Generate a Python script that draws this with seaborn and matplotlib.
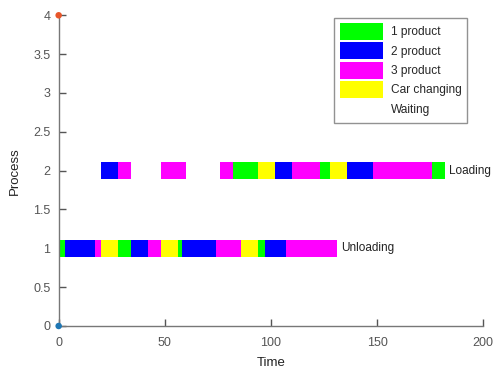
import matplotlib
matplotlib.use("Agg")
import matplotlib.pyplot as plt
import seaborn as sns
import pandas as pd
from matplotlib.patches import Patch

sns.set_style("white")
plt.rcParams['font.family'] = ['Liberation Sans', 'DejaVu Sans']

# Data
categories = ["1 product", "2 product", "3 product", "Car changing", "Waiting"]
palette = {"1 product": "#00ff00", "2 product": "#0000ff", "3 product": "#ff00ff",
           "Car changing": "#ffff00", "Waiting": "#ffffff"}

loading_start = [20, 28, 48, 76, 82, 94, 102, 110, 123, 128, 136, 148, 176]
loading_end   = [28, 34, 60, 82, 94, 102, 110, 123, 128, 136, 148, 176, 182]
loading_type  = ["2 product", "3 product", "3 product", "3 product", "1 product",
                 "Car changing", "2 product", "3 product", "1 product", "Car changing",
                 "2 product", "3 product", "1 product"]

unloading_start = [0, 3, 17, 20, 28, 34, 42, 48, 56, 58, 74, 86, 94, 97, 107]
unloading_end   = [3, 17, 20, 28, 34, 42, 48, 56, 58, 74, 86, 94, 97, 107, 131]
unloading_type  = ["1 product", "2 product", "3 product", "Car changing", "1 product",
                   "2 product", "3 product", "Car changing", "1 product", "2 product",
                   "3 product", "Car changing", "1 product", "2 product", "3 product"]

process_names = {2: "Loading", 1: "Unloading"}
marker_x = [0, 0]
marker_y = [0, 4]
marker_c = ["#1f77b4", "#e8562a"]

df = pd.concat([
    pd.DataFrame({"process": 2, "start": loading_start, "end": loading_end, "type": loading_type}),
    pd.DataFrame({"process": 1, "start": unloading_start, "end": unloading_end, "type": unloading_type}),
])
df["dur"] = df["end"] - df["start"]

fig = plt.figure(figsize=(4.93, 3.71), dpi=100)
ax = fig.add_axes([0.119, 0.1213, 0.861, 0.8375])

ax.barh(df["process"], df["dur"], left=df["start"], height=0.225,
        color=[palette[t] for t in df["type"]], edgecolor="none", zorder=2)

for p, name in process_names.items():
    end = df.loc[df["process"] == p, "end"].max()
    ax.text(end + 2, p, name, va="center", ha="left", fontsize=8.5, color="#222222")

sns.scatterplot(x=marker_x, y=marker_y, hue=[0, 1], palette=marker_c, s=22,
                edgecolor="none", legend=False, ax=ax, zorder=5, clip_on=False)

ax.set_xlim(0, 200)
ax.set_ylim(0, 4)
ax.set_xticks([0, 50, 100, 150, 200])
ax.set_yticks([0, 0.5, 1, 1.5, 2, 2.5, 3, 3.5, 4])
ax.set_yticklabels(["0", "0.5", "1", "1.5", "2", "2.5", "3", "3.5", "4"])
ax.set_xlabel("Time", fontsize=9.5, color="#222222", labelpad=6)
ax.set_ylabel("Process", fontsize=9.5, color="#222222", labelpad=9)
ax.tick_params(direction="in", length=5, width=1, color="#555555", labelcolor="#555555",
               labelsize=9, left=True, bottom=True, pad=6)
ax.tick_params(axis="x", direction="in", pad=8)
for s in ["top", "right"]:
    ax.spines[s].set_visible(False)
for s in ["left", "bottom"]:
    ax.spines[s].set_color("#777777")
    ax.spines[s].set_linewidth(1)

handles = [Patch(facecolor=palette[c], edgecolor="none", label=c) for c in categories]
leg = ax.legend(handles=handles, loc="upper right", bbox_to_anchor=(0.962, 0.992),
                fontsize=8.6, frameon=True, fancybox=False, edgecolor="#777777",
                handlelength=3.6, handleheight=1.8, labelspacing=0.2, handletextpad=0.7,
                borderpad=0.45, borderaxespad=0)
leg.get_frame().set_linewidth(1)

fig.savefig("out.png", dpi=100)
